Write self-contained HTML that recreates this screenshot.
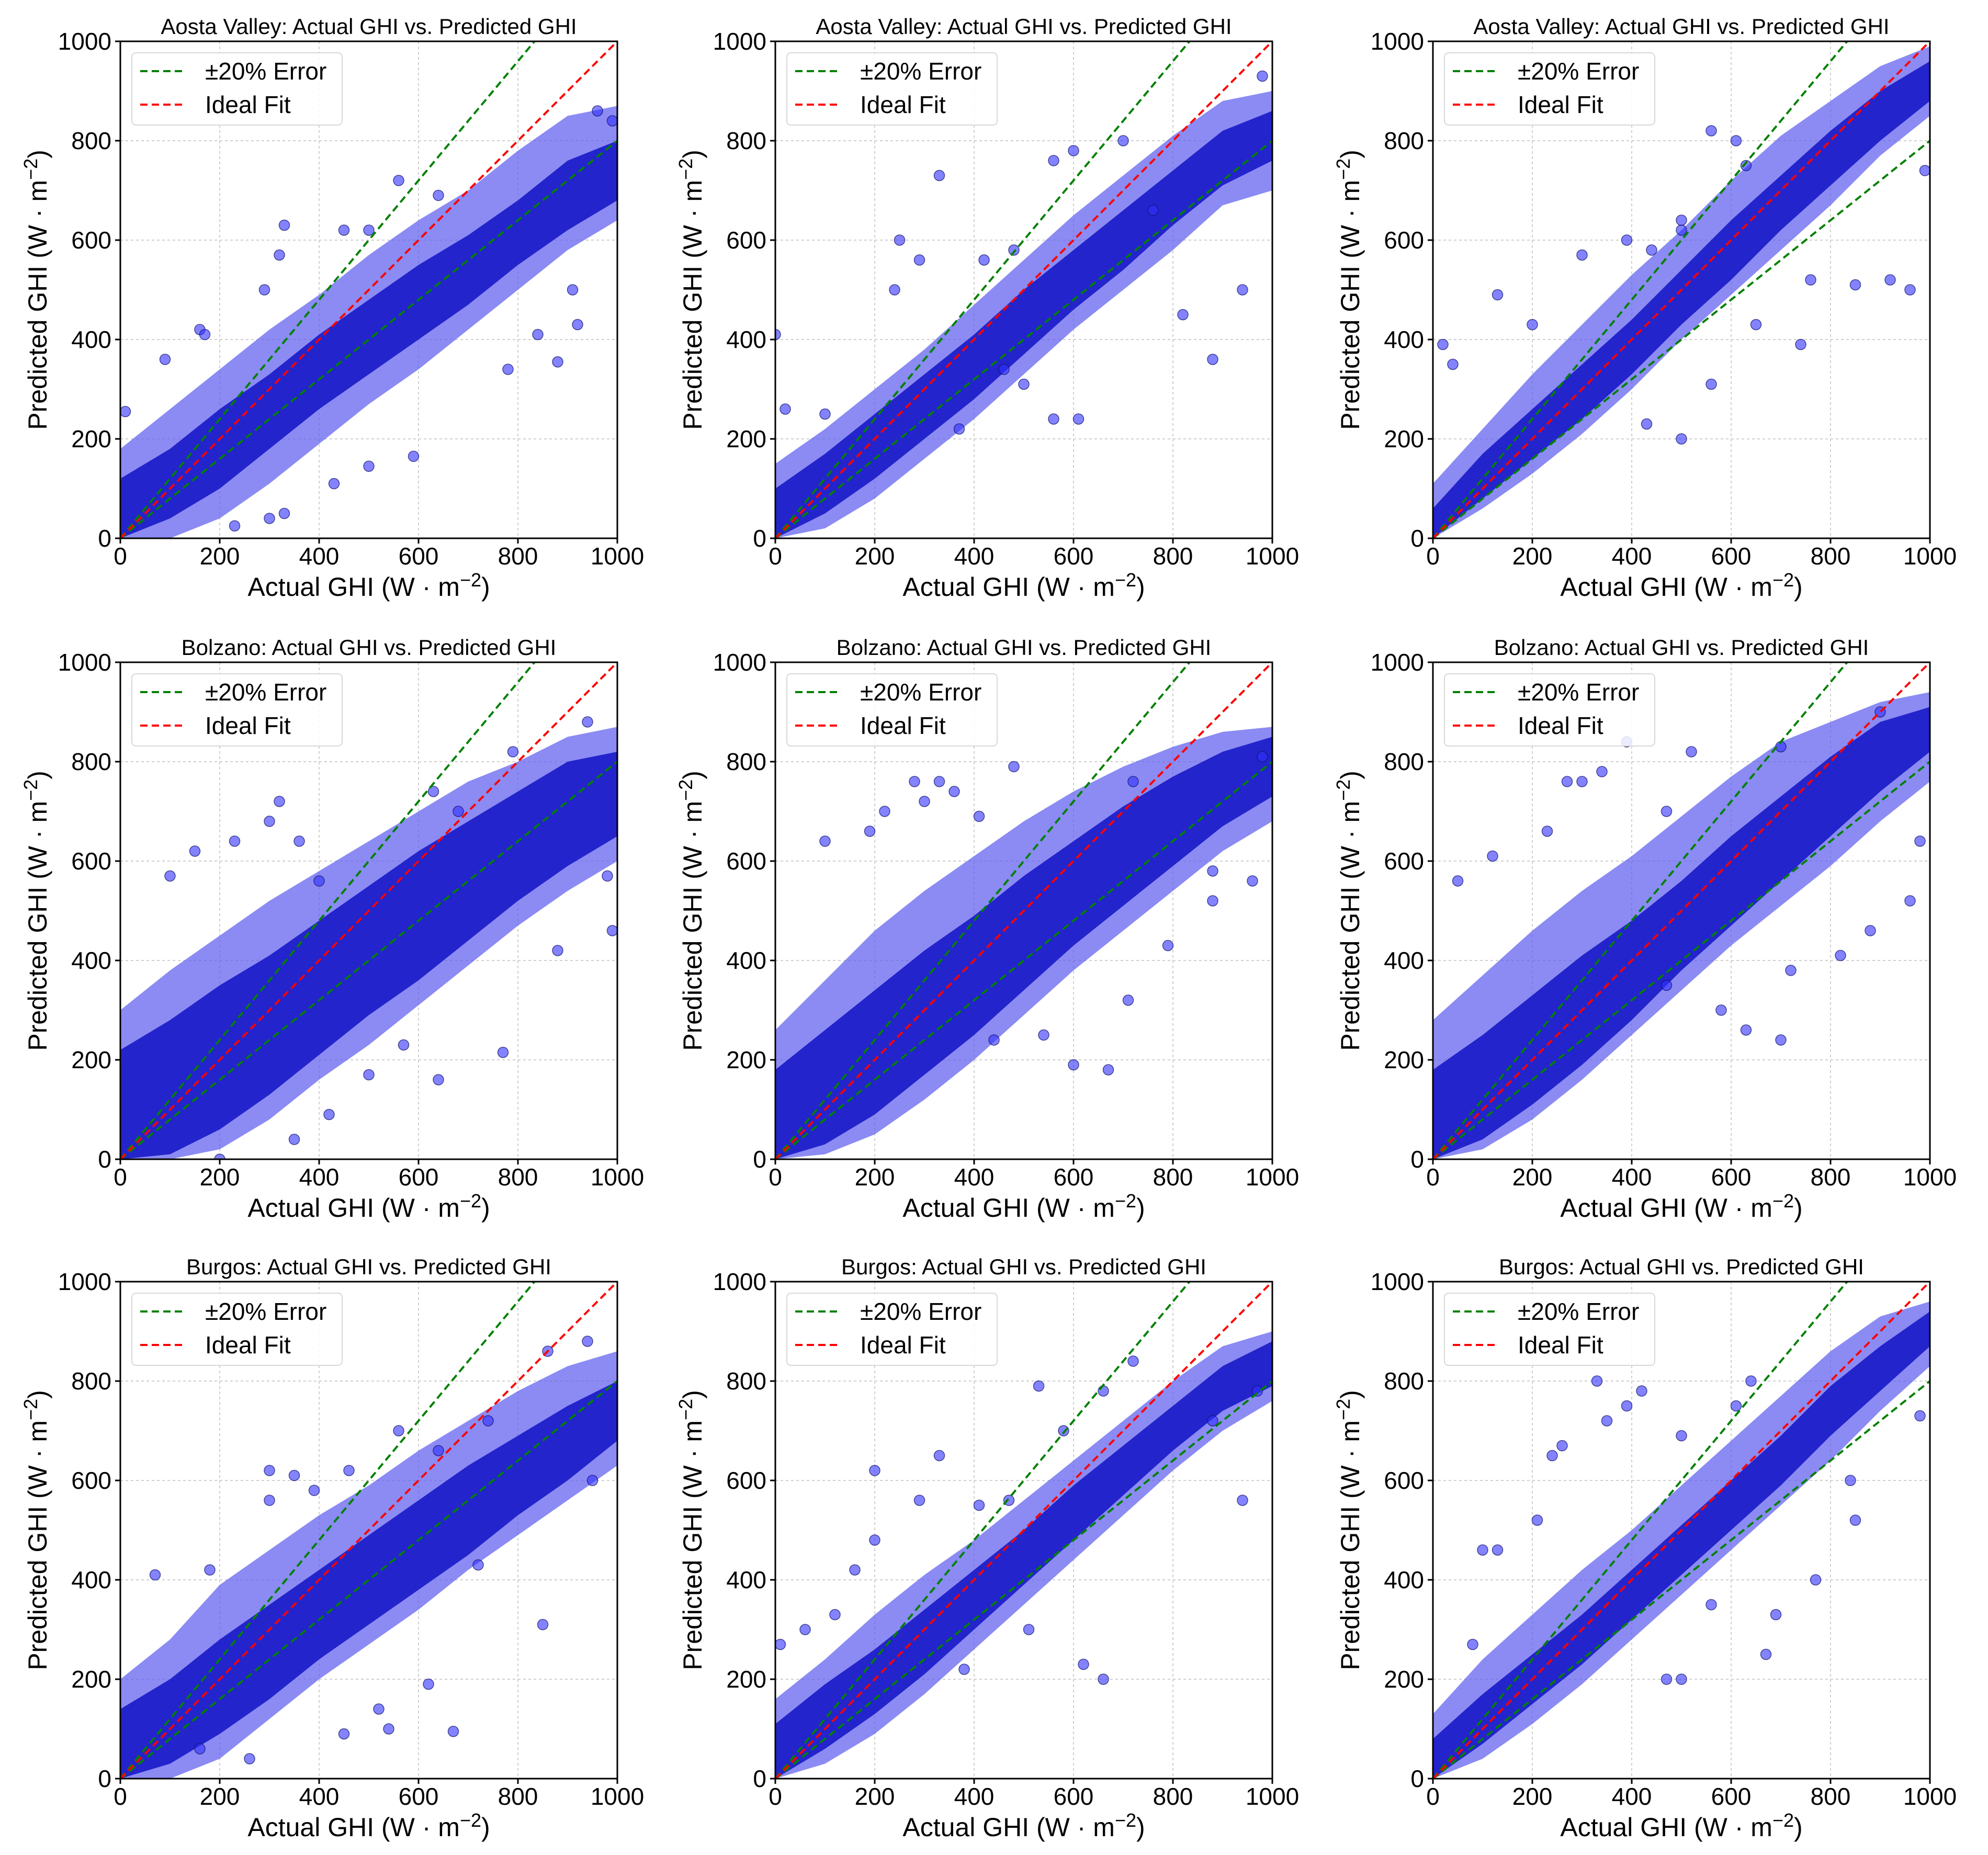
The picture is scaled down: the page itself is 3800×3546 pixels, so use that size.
<!DOCTYPE html>
<html><head><meta charset="utf-8"><title>GHI scatter panels</title>
<style>
html,body{margin:0;padding:0;background:#fff;}
svg{display:block;font-family:"Liberation Sans","DejaVu Sans",sans-serif;}
</style></head>
<body>
<svg id="fig" xmlns="http://www.w3.org/2000/svg" width="3800" height="3546" viewBox="0 0 3800 3546">
<rect width="3800" height="3546" fill="#fff"/>
</svg>
<script>
// ---- shared axis data ----
const xBins = [0,100,200,300,400,500,600,700,800,900,1000];
const tickValues = [0,200,400,600,800,1000];
const tickLabels = ["0","200","400","600","800","1000"];
const siteTitles = ["Aosta Valley","Bolzano","Burgos"];

// ---- per-panel cloud envelopes (predicted GHI at each xBin) ----
const p1OuterLo=[0,0,40,110,190,270,340,420,500,580,640];
const p1OuterHi=[180,260,340,420,490,570,640,700,780,850,870];
const p1CoreLo=[0,40,100,180,260,330,400,470,550,620,680];
const p1CoreHi=[120,180,260,330,410,480,550,610,680,760,800];
const p1OutX=[160,170,90,330,320,290,560,640,500,450,590,500,430,330,300,230,880,920,840,780,910,990,960,10];
const p1OutY=[420,410,360,630,570,500,720,690,620,620,165,145,110,50,40,25,355,430,410,340,500,840,860,255];

const p2OuterLo=[0,20,80,160,240,330,420,500,580,670,700];
const p2OuterHi=[150,220,300,380,470,560,650,730,810,880,900];
const p2CoreLo=[0,50,120,200,280,370,460,540,630,710,760];
const p2CoreHi=[100,170,250,330,410,500,580,660,740,820,860];
const p2OutX=[0,20,100,330,250,290,240,420,480,560,600,880,940,820,610,560,500,460,760,980,700,370];
const p2OutY=[410,260,250,730,600,560,500,560,580,760,780,360,500,450,240,240,310,340,660,930,800,220];

const p3OuterLo=[0,60,130,210,300,400,490,580,670,770,850];
const p3OuterHi=[110,220,330,430,530,620,720,810,880,950,990];
const p3CoreLo=[0,80,160,240,330,430,520,620,710,800,880];
const p3CoreHi=[60,170,260,350,440,540,640,730,820,900,960];
const p3OutX=[20,40,130,200,300,390,440,500,500,560,610,630,760,920,850,990,560,500,430,650,740,960];
const p3OutY=[390,350,490,430,570,600,580,620,640,820,800,750,520,520,510,740,310,200,230,430,390,500];

const p4OuterLo=[0,0,20,80,160,230,310,390,470,540,600];
const p4OuterHi=[300,380,450,520,580,640,700,760,800,850,870];
const p4CoreLo=[0,10,60,130,210,290,360,440,520,590,650];
const p4CoreHi=[220,280,350,410,480,550,620,680,740,800,820];
const p4OutX=[150,320,300,230,360,100,400,630,680,790,940,770,640,500,570,880,990,420,200,350,980];
const p4OutY=[620,720,680,640,640,570,560,740,700,820,880,215,160,170,230,420,460,90,0,40,570];

const p5OuterLo=[0,10,50,120,200,290,380,460,540,620,680];
const p5OuterHi=[260,360,460,540,610,680,740,790,830,860,870];
const p5CoreLo=[0,30,90,170,250,340,430,510,590,670,730];
const p5CoreHi=[180,260,340,420,490,570,640,710,770,820,850];
const p5OutX=[280,330,300,220,190,100,360,480,410,720,980,790,670,880,960,600,710,540,440,880];
const p5OutY=[760,760,720,700,660,640,740,790,690,760,810,430,180,580,560,190,320,250,240,520];

const p6OuterLo=[0,20,80,160,250,340,430,510,590,680,760];
const p6OuterHi=[280,370,460,540,610,690,770,840,880,920,940];
const p6CoreLo=[0,40,110,190,280,380,470,560,650,740,820];
const p6CoreHi=[180,250,330,410,480,560,650,730,810,880,910];
const p6OutX=[50,120,230,270,300,340,390,470,520,700,900,820,980,880,960,700,580,470,720,630];
const p6OutY=[560,610,660,760,760,780,840,700,820,830,900,410,640,460,520,240,300,350,380,260];

const p7OuterLo=[0,0,40,120,200,270,340,420,490,560,630];
const p7OuterHi=[200,280,390,460,530,590,660,720,780,830,860];
const p7CoreLo=[0,30,90,160,240,310,380,450,530,600,680];
const p7CoreHi=[140,200,280,350,420,490,560,630,690,750,800];
const p7OutX=[70,180,300,350,300,390,460,560,640,740,860,940,540,520,670,620,850,950,720,450,260,160];
const p7OutY=[410,420,620,610,560,580,620,700,660,720,860,880,100,140,95,190,310,600,430,90,40,60];

const p8OuterLo=[0,30,90,170,260,350,440,530,620,700,760];
const p8OuterHi=[160,240,330,410,480,560,640,720,800,870,900];
const p8CoreLo=[0,60,130,210,300,390,480,570,660,740,790];
const p8CoreHi=[110,190,260,340,420,500,590,670,750,830,880];
const p8OutX=[10,60,120,160,200,200,290,330,410,470,530,660,580,720,880,970,620,660,510,380,940];
const p8OutY=[270,300,330,420,480,620,560,650,550,560,790,780,700,840,720,780,230,200,300,220,560];

const p9OuterLo=[0,40,110,190,280,370,460,550,640,740,830];
const p9OuterHi=[130,240,330,420,500,590,680,770,860,930,960];
const p9CoreLo=[0,70,150,230,320,410,500,590,690,780,870];
const p9CoreHi=[80,170,250,330,420,510,600,690,790,870,940];
const p9OutX=[80,100,130,210,240,260,330,350,390,420,500,610,640,560,500,470,670,690,770,850,840,980];
const p9OutY=[270,460,460,520,650,670,800,720,750,780,690,750,800,350,200,200,250,330,400,520,600,730];

const panels=[
 {oLo:p1OuterLo,oHi:p1OuterHi,cLo:p1CoreLo,cHi:p1CoreHi,ox:p1OutX,oy:p1OutY},
 {oLo:p2OuterLo,oHi:p2OuterHi,cLo:p2CoreLo,cHi:p2CoreHi,ox:p2OutX,oy:p2OutY},
 {oLo:p3OuterLo,oHi:p3OuterHi,cLo:p3CoreLo,cHi:p3CoreHi,ox:p3OutX,oy:p3OutY},
 {oLo:p4OuterLo,oHi:p4OuterHi,cLo:p4CoreLo,cHi:p4CoreHi,ox:p4OutX,oy:p4OutY},
 {oLo:p5OuterLo,oHi:p5OuterHi,cLo:p5CoreLo,cHi:p5CoreHi,ox:p5OutX,oy:p5OutY},
 {oLo:p6OuterLo,oHi:p6OuterHi,cLo:p6CoreLo,cHi:p6CoreHi,ox:p6OutX,oy:p6OutY},
 {oLo:p7OuterLo,oHi:p7OuterHi,cLo:p7CoreLo,cHi:p7CoreHi,ox:p7OutX,oy:p7OutY},
 {oLo:p8OuterLo,oHi:p8OuterHi,cLo:p8CoreLo,cHi:p8CoreHi,ox:p8OutX,oy:p8OutY},
 {oLo:p9OuterLo,oHi:p9OuterHi,cLo:p9CoreLo,cHi:p9CoreHi,ox:p9OutX,oy:p9OutY}
];

const NS="http://www.w3.org/2000/svg";
const svg=document.getElementById('fig');
const colLeft=[230,1482,2739], rowTop=[79,1266,2450], S=950;
function mk(tag,attrs,parent){const e=document.createElementNS(NS,tag);for(const k in attrs)e.setAttribute(k,attrs[k]);parent.appendChild(e);return e;}

panels.forEach((p,i)=>{
  const r=Math.floor(i/3), c=i%3;
  const L=colLeft[c], T=rowTop[r];
  const sx=v=>L+v/1000*S, sy=v=>T+S-v/1000*S;
  const g=mk('g',{},svg);
  
  
  const clipId='clip'+i;
  const cp=mk('clipPath',{id:clipId},g);
  mk('rect',{x:L,y:T,width:S,height:S},cp);
  tickValues.forEach(v=>{
    const gx=mk('line',{x1:sx(v),x2:sx(v),y1:T,y2:T+S,stroke:'#cfcfcf','stroke-width':2,'stroke-dasharray':'5,5'},g);
    
    
    const gy=mk('line',{x1:L,x2:L+S,y1:sy(v),y2:sy(v),stroke:'#cfcfcf','stroke-width':2,'stroke-dasharray':'5,5'},g);
    
    
  });
  const data=mk('g',{'clip-path':'url(#'+clipId+')'},g);
  function band(lo,hi,fill,op,name){
    let d='';
    xBins.forEach((x,k)=>{d+=(k?'L':'M')+sx(x)+','+sy(hi[k]);});
    for(let k=xBins.length-1;k>=0;k--)d+='L'+sx(xBins[k])+','+sy(lo[k]);
    const e=mk('path',{d:d+'Z',fill:fill,'fill-opacity':op},data);
    
    
  }
  band(p.oLo,p.oHi,'#5a5aee',0.7,'point-cloud-outer');
  band(p.cLo,p.cHi,'#2424cc',1,'point-cloud-core');
  p.ox.forEach((x,k)=>{
    const pt=mk('circle',{cx:sx(x),cy:sy(p.oy[k]),r:10,fill:'#3030ff','fill-opacity':0.6,stroke:'#10106a','stroke-opacity':0.7,'stroke-width':1.5},data);
    
    
  });
  const gu=mk('line',{x1:sx(0),y1:sy(0),x2:sx(1000/1.2),y2:sy(1000),stroke:'#008000','stroke-width':4,'stroke-dasharray':'14,8'},data);
  
  
  const gl=mk('line',{x1:sx(0),y1:sy(0),x2:sx(1000),y2:sy(800),stroke:'#008000','stroke-width':4,'stroke-dasharray':'14,8'},data);
  
  
  const rl=mk('line',{x1:sx(0),y1:sy(0),x2:sx(1000),y2:sy(1000),stroke:'#ff0000','stroke-width':4,'stroke-dasharray':'14,8'},data);
  
  
  const fr=mk('rect',{x:L,y:T,width:S,height:S,fill:'none',stroke:'#000','stroke-width':3},g);
  
  
  tickValues.forEach((v,k)=>{
    mk('line',{x1:sx(v),x2:sx(v),y1:T+S,y2:T+S+10,stroke:'#000','stroke-width':3},g);
    mk('line',{x1:L-10,x2:L,y1:sy(v),y2:sy(v),stroke:'#000','stroke-width':3},g);
    const tx=mk('text',{x:sx(v),y:T+S+50,'font-size':46,'text-anchor':'middle',fill:'#000'},g);
    tx.textContent=tickLabels[k];
    
    
    const ty=mk('text',{x:L-17,y:sy(v)+16,'font-size':46,'text-anchor':'end',fill:'#000'},g);
    ty.textContent=tickLabels[k];
    
    
  });
  const ti=mk('text',{x:L+S/2,y:T-14,'font-size':42,'text-anchor':'middle',fill:'#000'},g);
  ti.textContent=siteTitles[r]+': Actual GHI vs. Predicted GHI';
  
  
  const xl=mk('text',{x:L+S/2,y:T+S+110,'font-size':50,'text-anchor':'middle',fill:'#000'},g);
  xl.innerHTML='Actual GHI (W · m<tspan dy="-18" font-size="36">−2</tspan><tspan dy="18">)</tspan>';
  
  
  const yl=mk('text',{x:0,y:0,'font-size':50,'text-anchor':'middle',fill:'#000',transform:'translate('+(L-141)+','+(T+S/2)+') rotate(-90)'},g);
  yl.innerHTML='Predicted GHI (W · m<tspan dy="-18" font-size="36">−2</tspan><tspan dy="18">)</tspan>';
  
  
  const lg=mk('g',{},g);
  
  
  mk('rect',{x:L+22,y:T+22,width:402,height:138,rx:8,fill:'#fff','fill-opacity':0.85,stroke:'#d8d8d8','stroke-width':2},lg);
  mk('line',{x1:L+38,x2:L+124,y1:T+57,y2:T+57,stroke:'#008000','stroke-width':4,'stroke-dasharray':'14,8'},lg);
  const t1=mk('text',{x:L+162,y:T+73,'font-size':46,fill:'#000'},lg);
  t1.textContent='±20% Error';
  
  
  mk('line',{x1:L+38,x2:L+124,y1:T+121,y2:T+121,stroke:'#ff0000','stroke-width':4,'stroke-dasharray':'14,8'},lg);
  const t2=mk('text',{x:L+162,y:T+137,'font-size':46,fill:'#000'},lg);
  t2.textContent='Ideal Fit';
  
  
});
</script>
</body></html>
